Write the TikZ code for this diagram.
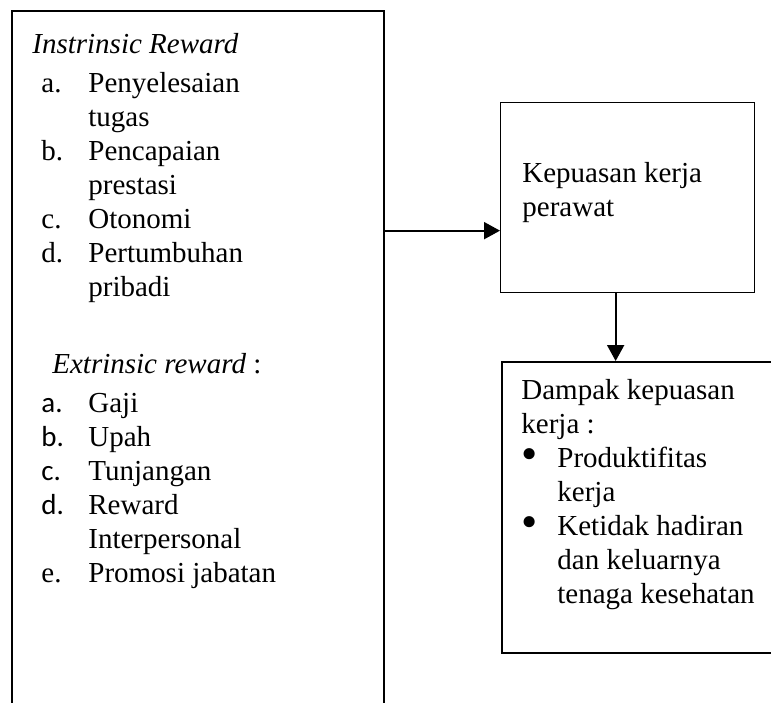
\documentclass[tikz,border=0pt]{standalone}
\usepackage{fontspec}
\usepackage{graphicx}
\setmainfont{Liberation Serif}
\newfontfamily\calfont{Carlito}
\usetikzlibrary{positioning,arrows.meta}
\newcommand{\bigdot}{\smash{\raisebox{-1.3pt}{\scalebox{1.6}{\textbullet}}}}

\begin{document}
\begin{tikzpicture}[
        x = 0.5pt, y = -0.5pt,
        every node/.style = {font = \fontsize{14.5}{17}\selectfont, inner sep = 0pt},
        box/.style = {draw, line width = 1pt, anchor = north west},
        txt/.style = {anchor = base west},
        arr/.style = {line width = 1pt, -{Triangle[length = 8pt, width = 8.5pt]}}
        ]
        \useasboundingbox (0,0) rectangle (771,702);
        \clip (0,0) rectangle (771,702);
        % boxes
        \node[box, minimum width = 186pt, minimum height = 400pt] (reward) at (11,10) {};
        \node[box, line width = 0.65pt, minimum width = 127pt, minimum height = 95pt] (puas) at (500,102) {};
        \node[box, minimum width = 160pt, minimum height = 145.5pt] (dampak) at (501,361) {};
        % texts
        \node[txt] (intrhead) at (32,53) {\textit{Instrinsic Reward}};
        \node[txt] (intrlist) at (41,92) {\begin{tabular}[t]{@{}p{23.5pt}@{}l@{}}
            a. & Penyelesaian\\ & tugas\\ b. & Pencapaian\\ & prestasi\\
            c. & Otonomi\\ d. & Pertumbuhan\\ & pribadi
        \end{tabular}};
        \node[txt] (extrhead) at (52,373) {\textit{Extrinsic reward} :};
        \node[txt] (extrlist) at (41,412) {\begin{tabular}[t]{@{}p{23.5pt}@{}l@{}}
            {\calfont a.} & Gaji\\ {\calfont b.} & Upah\\ {\calfont c.} & Tunjangan\\
            {\calfont d.} & Reward\\ & Interpersonal\\ e. & Promosi jabatan
        \end{tabular}};
        \node[txt] (puastext) at (522,182) {\begin{tabular}[t]{@{}l@{}}
            Kepuasan kerja\\ perawat
        \end{tabular}};
        \node[txt] (dampaktext) at (521,399) {\begin{tabular}[t]{@{}p{18pt}@{}l@{}}
            \multicolumn{2}{@{}l@{}}{Dampak kepuasan}\\
            \multicolumn{2}{@{}l@{}}{kerja :}\\
            \bigdot & Produktifitas\\ & kerja\\
            \bigdot & Ketidak hadiran\\ & dan keluarnya\\ & tenaga kesehatan
        \end{tabular}};
        % arrows
        \coordinate (hit) at ([yshift=-16.5pt]puas.west);
        \coordinate (drop) at ([xshift=-6pt]puas.south);
        \draw[arr] (reward.east |- hit) -- (hit);
        \draw[arr] (drop) -- (drop |- dampak.north);
\end{tikzpicture}
\end{document}
